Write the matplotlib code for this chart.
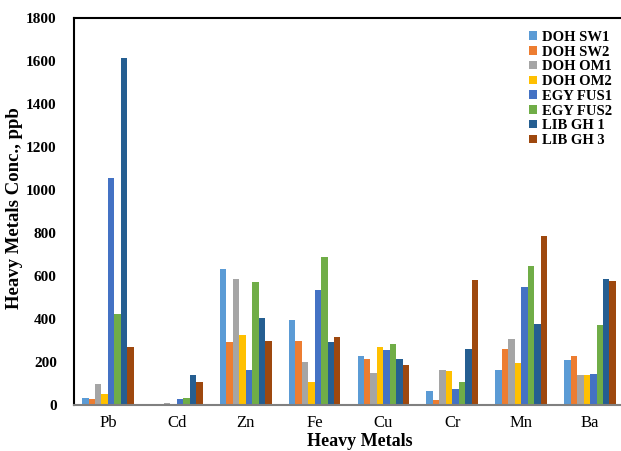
import matplotlib.pyplot as plt
import numpy as np

metals = ["Pb", "Cd", "Zn", "Fe", "Cu", "Cr", "Mn", "Ba"]
series_names = ["DOH SW1", "DOH SW2", "DOH OM1", "DOH OM2",
                "EGY FUS1", "EGY FUS2", "LIB GH 1", "LIB GH 3"]

doh_sw1 = [34, 2, 632, 395, 228, 65, 161, 209]
doh_sw2 = [28, 2, 291, 299, 212, 23, 259, 228]
doh_om1 = [98, 8, 587, 198, 150, 164, 305, 138]
doh_om2 = [52, 2, 327, 107, 271, 158, 195, 141]
egy_fus1 = [1055, 29, 161, 535, 256, 76, 550, 146]
egy_fus2 = [423, 33, 573, 690, 282, 107, 645, 371]
lib_gh1 = [1615, 140, 406, 291, 212, 259, 377, 586]
lib_gh3 = [271, 108, 299, 318, 184, 580, 787, 575]

colors = ["#5B9BD5", "#ED7D31", "#A5A5A5", "#FFC000",
          "#4472C4", "#70AD47", "#255E91", "#9E480E"]

all_series = [doh_sw1, doh_sw2, doh_om1, doh_om2,
              egy_fus1, egy_fus2, lib_gh1, lib_gh3]

plt.rcParams['font.family'] = ['Liberation Serif', 'DejaVu Serif']

fig = plt.figure(figsize=(6.21, 4.51), dpi=100)
ax = fig.add_axes([73.5/621, 1-405/451, 551/621, 387/451])

x = np.arange(len(metals))
w = 0.094
for i, (vals, name) in enumerate(zip(all_series, series_names)):
    ax.bar(x + (i - 3.5)*w, vals, width=w, color=colors[i], label=name)

ax.set_xlim(-0.5, 7.5)
ax.set_ylim(0, 1800)
ax.set_yticks(range(0, 1801, 200))
ax.set_yticklabels([str(v) for v in range(0, 1801, 200)], fontweight='bold', fontsize=11)
ax.set_xticks(x)
ax.set_xticklabels(metals, fontsize=12)
ax.tick_params(length=0)
ax.tick_params(axis='x', pad=7)
ax.tick_params(axis='y', pad=12)

ax.spines['right'].set_visible(False)
ax.spines['top'].set_linewidth(1.5)
ax.spines['left'].set_linewidth(1.5)
ax.spines['bottom'].set_color('#808080')
ax.spines['bottom'].set_linewidth(1.5)

ax.set_xlabel("Heavy Metals", fontweight='bold', fontsize=13)
ax.xaxis.set_label_coords((360 - 73.5)/551, -(442 - 405)/387)
ax.xaxis.label.set_va('center')
ax.set_ylabel("Heavy Metals Conc., ppb", fontweight='bold', fontsize=13.5)
ax.yaxis.set_label_coords(-(73.5 - 15)/551, (405 - 208)/387)
ax.yaxis.label.set_va('center')

leg = ax.legend(loc='upper left', bbox_to_anchor=(450/551, 0.982), frameon=False,
                prop={'weight': 'bold', 'size': 10.5}, handlelength=0.5, handleheight=0.5,
                handletextpad=0.35, labelspacing=0.12, borderaxespad=0)

fig.savefig("out.png", dpi=100)
